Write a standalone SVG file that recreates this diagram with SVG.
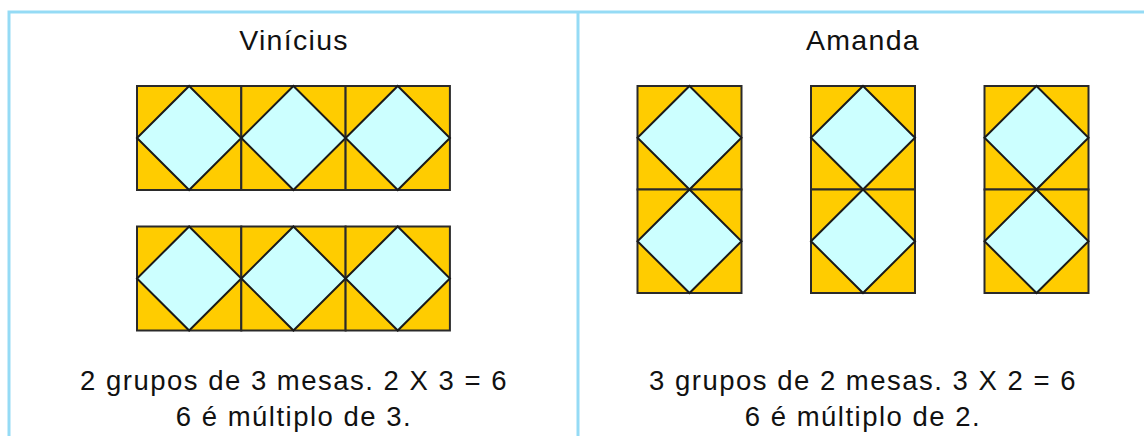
<svg xmlns="http://www.w3.org/2000/svg" width="1144" height="436" viewBox="0 0 1144 436">
<style>
.frame{stroke:#95dbf5;stroke-width:3;fill:none}
.bg{fill:#ffcc00;stroke:#2a2a2a;stroke-width:2}
.dm{fill:#ccffff;stroke:#1a1a1a;stroke-width:2;stroke-linejoin:miter}
.t{font-family:"Liberation Sans",Arial,sans-serif;font-size:27.5px;letter-spacing:1.5px;fill:#111;text-anchor:middle}
.h{font-family:"Liberation Sans",Arial,sans-serif;font-size:28.5px;letter-spacing:1.3px;fill:#111;text-anchor:middle}
</style>
<defs>
<g id="tileH">
<rect class="bg" x="0" y="0" width="104.3" height="104"/>
<polygon class="dm" points="52.15,0 104.3,52 52.15,104 0,52"/>
</g>
<g id="tileV">
<rect class="bg" x="0" y="0" width="104" height="103.5"/>
<polygon class="dm" points="52,0 104,51.75 52,103.5 0,51.75"/>
</g>
</defs>
<g id="frame">
<path class="frame" d="M9,436 V12 H1144 M578,12 V436"/>
</g>
<g id="vinicius">
<text class="h" x="294" y="50">Vinícius</text>
<g id="v-row1">
<use href="#tileH" x="137" y="86"/>
<use href="#tileH" x="241.3" y="86"/>
<use href="#tileH" x="345.6" y="86"/>
</g>
<g id="v-row2">
<use href="#tileH" x="137" y="226.5"/>
<use href="#tileH" x="241.3" y="226.5"/>
<use href="#tileH" x="345.6" y="226.5"/>
</g>
<text class="t" x="294" y="390">2 grupos de 3 mesas. 2 X 3 = 6</text>
<text class="t" x="294" y="426">6 é múltiplo de 3.</text>
</g>
<g id="amanda">
<text class="h" x="863" y="50">Amanda</text>
<g id="a-col1">
<use href="#tileV" x="637.5" y="86"/>
<use href="#tileV" x="637.5" y="189.5"/>
</g>
<g id="a-col2">
<use href="#tileV" x="811" y="86"/>
<use href="#tileV" x="811" y="189.5"/>
</g>
<g id="a-col3">
<use href="#tileV" x="984.5" y="86"/>
<use href="#tileV" x="984.5" y="189.5"/>
</g>
<text class="t" x="863" y="390">3 grupos de 2 mesas. 3 X 2 = 6</text>
<text class="t" x="863" y="426">6 é múltiplo de 2.</text>
</g>
</svg>
